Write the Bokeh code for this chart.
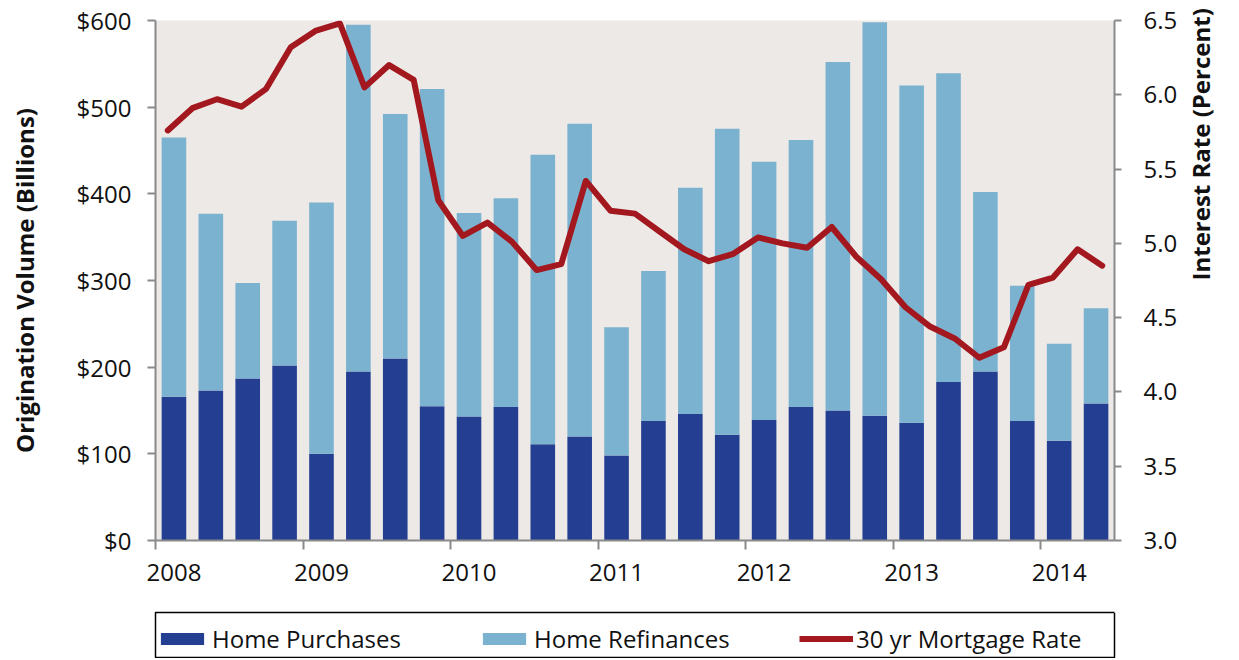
import math
from bokeh.plotting import figure
from bokeh.layouts import column
from bokeh.models import (ColumnDataSource, Range1d, LinearAxis, FixedTicker,
                          NumeralTickFormatter, Legend, LegendItem)
from bokeh.embed import file_html
from bokeh.resources import INLINE

# ---- data -------------------------------------------------------------
quarters = ["2008Q1", "2008Q2", "2008Q3", "2008Q4",
            "2009Q1", "2009Q2", "2009Q3", "2009Q4",
            "2010Q1", "2010Q2", "2010Q3", "2010Q4",
            "2011Q1", "2011Q2", "2011Q3", "2011Q4",
            "2012Q1", "2012Q2", "2012Q3", "2012Q4",
            "2013Q1", "2013Q2", "2013Q3", "2013Q4",
            "2014Q1", "2014Q2"]
purchases = [166, 173, 187, 202, 100, 195, 210, 155,
             143, 154, 111, 120, 98, 138, 146, 122,
             139, 154, 150, 144, 136, 183, 195, 138,
             115, 158]
refinances = [299, 204, 110, 167, 290, 400, 282, 366,
              235, 241, 334, 361, 148, 173, 261, 353,
              298, 308, 402, 454, 389, 356, 207, 156,
              112, 110]
years = ["2008", "2009", "2010", "2011", "2012", "2013", "2014"]
# 30 yr mortgage rate, every second month starting Feb 2008 (months since Jan 2008)
rate_months = [1, 3, 5, 7, 9, 11, 13, 15, 17, 19, 21, 23, 25, 27, 29, 31, 33,
               35, 37, 39, 41, 43, 45, 47, 49, 51, 53, 55, 57, 59, 61, 63, 65,
               67, 69, 71, 73, 75, 77]
rates = [5.76, 5.91, 5.97, 5.92, 6.04, 6.32, 6.43, 6.48, 6.05, 6.20,
         6.10, 5.29, 5.05, 5.14, 5.01, 4.82, 4.86, 5.42, 5.22, 5.20,
         5.08, 4.96, 4.88, 4.93, 5.04, 5.00, 4.97, 5.11, 4.91, 4.76,
         4.57, 4.44, 4.36, 4.23, 4.30, 4.72, 4.77, 4.96, 4.85]
volume_ticks = [0, 100, 200, 300, 400, 500, 600]
rate_ticks = [3.0, 3.5, 4.0, 4.5, 5.0, 5.5, 6.0, 6.5]
series_names = ["Home Purchases", "Home Refinances", "30 yr Mortgage Rate"]

# ---- sources ----------------------------------------------------------
bar_x = list(range(len(quarters)))
bar_src = ColumnDataSource(dict(x=bar_x, quarter=quarters,
                                purchases=purchases, refinances=refinances))
line_src = ColumnDataSource(dict(x=[m / 3 - 0.5 for m in rate_months], rate=rates))

DARK = "#243F92"
LIGHT = "#7BB2CF"
RED = "#A3181E"
AXIS = "#8A8A8A"
FONT = "Open Sans"
W = 1236

p = figure(width=W, height=604,
           x_range=Range1d(-0.5, len(quarters) - 0.5),
           y_range=Range1d(volume_ticks[0], volume_ticks[-1]),
           output_backend="svg", toolbar_location=None,
           min_border_left=155, min_border_right=121,
           min_border_top=20, min_border_bottom=64)
p.extra_y_ranges = {"rate": Range1d(rate_ticks[0], rate_ticks[-1])}

p.background_fill_color = "#ECE9E6"
p.border_fill_color = "white"
p.outline_line_color = None
p.xgrid.visible = False
p.ygrid.visible = False

bars = p.vbar_stack(["purchases", "refinances"], x="x", width=0.667,
                    color=[DARK, LIGHT], line_color=None, source=bar_src)
line = p.line("x", "rate", source=line_src, y_range_name="rate",
              line_width=6, line_color=RED, line_join="round", line_cap="round")

# ---- axes -------------------------------------------------------------
def style_y(ax):
    ax.axis_line_color = AXIS
    ax.axis_line_width = 2
    ax.major_tick_line_color = AXIS
    ax.major_tick_line_width = 2
    ax.major_tick_out = 8
    ax.major_tick_in = 0
    ax.minor_tick_line_color = None
    ax.major_label_text_font = FONT
    ax.major_label_text_font_size = "24px"
    ax.major_label_text_color = "#111111"
    ax.major_label_standoff = 16
    ax.axis_label_text_font = FONT
    ax.axis_label_text_font_style = "bold"
    ax.axis_label_text_font_size = "24px"
    ax.axis_label_text_color = "#111111"
    ax.axis_label_standoff = 33

yl = p.yaxis[0]
yl.ticker = FixedTicker(ticks=volume_ticks)
yl.formatter = NumeralTickFormatter(format="$0")
yl.axis_label = "Origination Volume (Billions)"
style_y(yl)

yr = LinearAxis(y_range_name="rate", axis_label="Interest Rate (Percent)")
yr.ticker = FixedTicker(ticks=rate_ticks)
yr.formatter = NumeralTickFormatter(format="0.0")
style_y(yr)
yr.major_tick_out = 7
yr.major_label_standoff = 22
yr.axis_label_standoff = 20
yr.axis_label_orientation = math.pi / 2
p.add_layout(yr, "right")

xa = p.xaxis[0]
year_pos = [bar_x[i] for i in range(0, len(quarters), 4)]
xa.ticker = FixedTicker(ticks=year_pos, minor_ticks=[x - 0.5 for x in year_pos])
xa.major_label_overrides = {pos: yr_lab for pos, yr_lab in zip(year_pos, years)}
xa.axis_line_color = AXIS
xa.axis_line_width = 2
xa.major_tick_line_color = None
xa.major_tick_out = 0
xa.major_tick_in = 0
xa.minor_tick_line_color = AXIS
xa.minor_tick_line_width = 2
xa.minor_tick_out = 9
xa.minor_tick_in = 0
xa.major_label_text_font = FONT
xa.major_label_text_font_size = "24px"
xa.major_label_text_color = "#111111"
xa.major_label_standoff = 14

# ---- legend (own strip below the chart; its frame outline is the box) --
# ranges placed away from the data so the proxy glyphs stay out of view
pl = figure(width=W, height=54, x_range=Range1d(-20, -10), y_range=Range1d(-20, -10),
            output_backend="svg", toolbar_location=None,
            x_axis_type=None, y_axis_type=None,
            min_border_left=155, min_border_right=121,
            min_border_top=8, min_border_bottom=0)
pl.xgrid.visible = False
pl.ygrid.visible = False
pl.background_fill_color = "white"
pl.border_fill_color = "white"
pl.outline_line_color = "black"
pl.outline_line_width = 1.5

lg_bars = pl.vbar_stack(["purchases", "refinances"], x="x", width=0.667,
                        color=[DARK, LIGHT], line_color=None, source=bar_src)
lg_line = pl.line("x", "rate", source=line_src, line_width=6, line_color=RED)

legend = Legend(items=[LegendItem(label=series_names[0], renderers=[lg_bars[0]]),
                       LegendItem(label=series_names[1], renderers=[lg_bars[1]]),
                       LegendItem(label=series_names[2], renderers=[lg_line])],
                orientation="horizontal", location=(0, 3))
legend.margin = 0
legend.border_line_color = None
legend.background_fill_alpha = 0
legend.padding = 3
legend.spacing = 65
legend.glyph_width = 54
legend.glyph_height = 15
legend.label_standoff = 3
legend.label_width = 200
legend.label_text_font = FONT
legend.label_text_font_size = "24px"
legend.label_text_color = "#111111"
pl.add_layout(legend, "center")

page = column(p, pl, spacing=0)
open("out.html", "w").write(file_html(page, INLINE))
